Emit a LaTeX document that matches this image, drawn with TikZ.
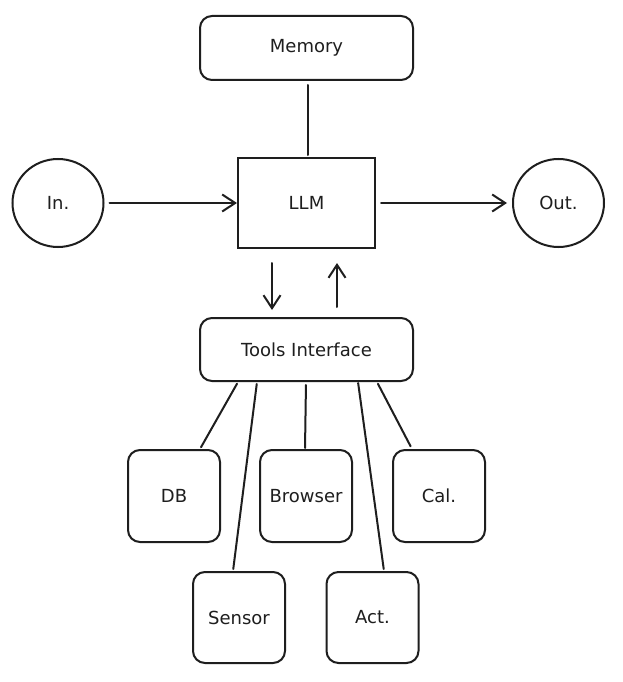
\documentclass[tikz,border=0pt]{standalone}
\usepackage{fontspec}
\setmainfont{DejaVu Sans}
\usetikzlibrary{arrows.meta,shapes.geometric}
\definecolor{ink}{HTML}{1E1E1E}
\begin{document}
\begin{tikzpicture}[x=1pt,y=-1pt,
  every node/.style={font=\fontsize{18}{21}\selectfont, text=ink},
  rbox/.style={draw=ink, line width=2pt, rounded corners=12pt, inner sep=0pt},
  sbox/.style={draw=ink, line width=2pt, inner sep=0pt},
  roundnode/.style={draw=ink, line width=2pt, ellipse, inner sep=0pt, minimum width=91pt, minimum height=88pt},
  link/.style={draw=ink, line width=2pt, line cap=round},
  arr/.style={link, -{Straight Barb[length=13pt,width=17pt,line width=2pt]}}
]
\useasboundingbox (0,0) rectangle (622,682);
\fill[white] (0,0) rectangle (622,682);

\node[rbox, minimum width=213pt, minimum height=64pt] (mem) at (306.5,48) {Memory};
\node[sbox, minimum width=137pt, minimum height=90pt] (llm) at (306.5,203) {LLM};
\node[roundnode] (in) at (58,203) {In.};
\node[roundnode] (out) at (558.5,203) {Out.};
\node[rbox, minimum width=213pt, minimum height=63pt] (tools) at (306.5,349.5) {Tools Interface};

\node[rbox, minimum width=92pt, minimum height=92pt] (db) at (174,496) {DB};
\node[rbox, minimum width=92pt, minimum height=92pt] (browser) at (306,496) {Browser};
\node[rbox, minimum width=92pt, minimum height=92pt] (cal) at (439,496) {Cal.};
\node[rbox, minimum width=92pt, minimum height=91pt] (sensor) at (239,617.5) {Sensor};
\node[rbox, minimum width=92pt, minimum height=91pt] (act) at (372.5,617.5) {Act.};

% LLM links
\draw[link, shorten <=4pt, shorten >=2pt] ([xshift=1.5pt]mem.south) -- ([xshift=1.5pt]llm.north);
\draw[arr, shorten <=5pt] (in.east) -- (llm.west);
\draw[arr, shorten <=5pt, shorten >=5pt] (llm.east) -- (out.west);
\draw[arr, shorten <=14pt, shorten >=7pt] ([xshift=-34.5pt]llm.south) -- ([xshift=-34.5pt]tools.north);
\draw[arr, shorten <=10pt, shorten >=14pt] ([xshift=30.5pt]tools.north) -- ([xshift=30.5pt]llm.south);

% tool links
\draw[link, shorten <=2pt, shorten >=2pt] ([xshift=-68.5pt]tools.south) -- ([xshift=26pt]db.north);
\draw[link, shorten <=2pt, shorten >=2pt] ([xshift=-49.5pt]tools.south) -- ([xshift=-6pt]sensor.north);
\draw[link, shorten <=3pt, shorten >=1pt] ([xshift=-0.5pt]tools.south) -- ([xshift=-1pt]browser.north);
\draw[link, shorten <=1pt, shorten >=2pt] ([xshift=51.5pt]tools.south) -- ([xshift=11.5pt]act.north);
\draw[link, shorten <=2pt, shorten >=3pt] ([xshift=70.5pt]tools.south) -- ([xshift=-27pt]cal.north);
\end{tikzpicture}
\end{document}
